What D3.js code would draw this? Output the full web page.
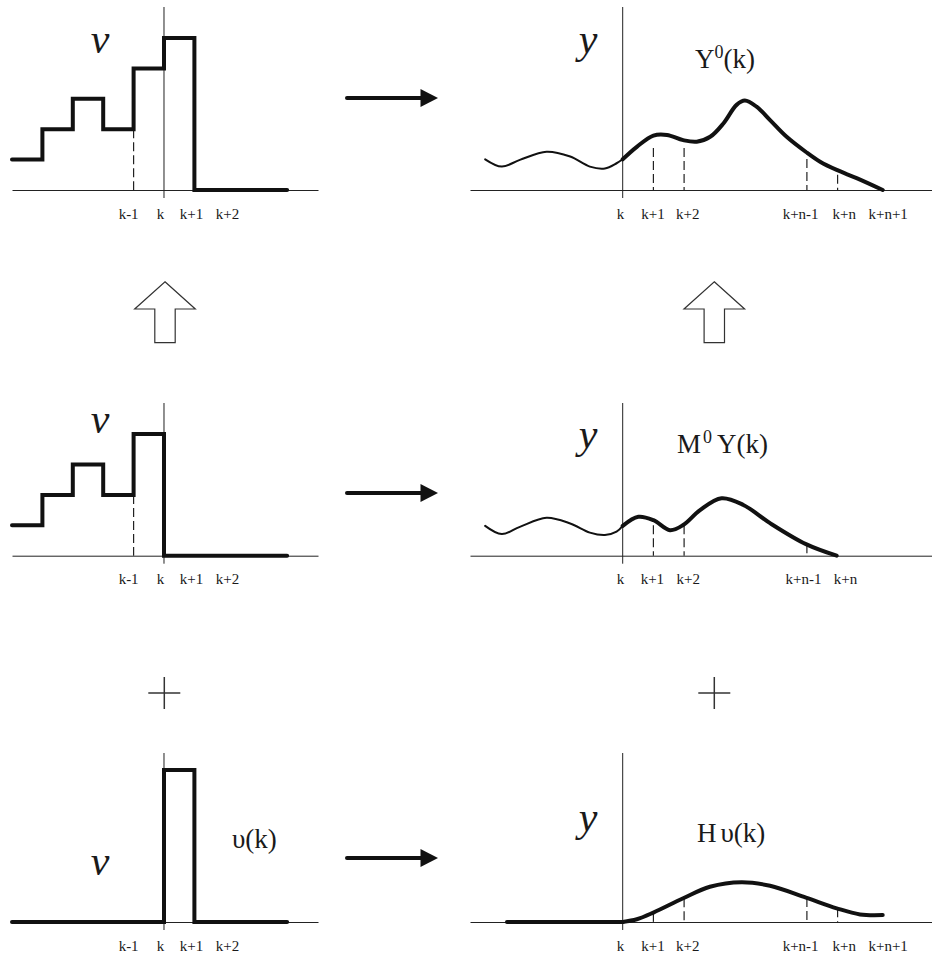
<!DOCTYPE html>
<html>
<head>
<meta charset="utf-8">
<script src="https://cdn.jsdelivr.net/npm/d3@7"></script>
<style>
  body { margin: 0; background: #fff; }
  svg text { font-family: 'Liberation Serif', 'Times New Roman', serif; fill: #1a1a1a; }
</style>
</head>
<body>
<script>
let w = 932;
let h = 965;

// step inputs (t = steps after k, value)
let vPast = [[-5, 1], [-4, 2], [-3, 3], [-2, 2], [-1, 4], [0, 5], [1, 0], [4.05, 0]];
let vFree = [[-5, 1], [-4, 2], [-3, 3], [-2, 2], [-1, 4], [0, 0], [4.05, 0]];
let vPulse = [[-5, 0], [0, 5], [1, 0], [4.05, 0]];

// outputs: past (thin) and predicted (thick)
let y0Past = [[-4.48, 1.01], [-3.94, 0.77], [-3.35, 0.99], [-2.48, 1.26], [-1.71, 1.1], [-1.07, 0.77], [-0.58, 0.71], [-0.2, 0.88], [0, 1.01]];
let y0Pred = [[0, 1.01], [0.46, 1.42], [1.0, 1.79], [1.44, 1.81], [1.97, 1.64], [2.41, 1.59], [2.85, 1.75], [3.28, 2.19], [3.71, 2.8], [3.98, 2.94], [4.36, 2.74], [4.8, 2.3], [5.34, 1.75], [5.97, 1.25], [6.43, 0.93], [6.97, 0.66], [7.62, 0.39], [8.47, 0]];
let m0Past = [[-4.48, 0.98], [-3.94, 0.71], [-3.35, 0.95], [-2.48, 1.25], [-1.71, 1.06], [-1.07, 0.76], [-0.58, 0.68], [-0.2, 0.79], [0, 0.98]];
let m0Pred = [[0, 0.98], [0.51, 1.28], [1.0, 1.17], [1.54, 0.84], [1.97, 1.01], [2.52, 1.5], [3.22, 1.89], [3.93, 1.67], [4.8, 1.07], [5.97, 0.38], [6.97, 0]];
let hPast = [[-3.77, 0], [0, 0]];
let hPred = [[0, 0], [0.46, 0.09], [1.0, 0.31], [1.97, 0.78], [2.84, 1.16], [3.87, 1.31], [4.8, 1.19], [5.97, 0.8], [6.97, 0.45], [7.73, 0.25], [8.47, 0.23]];

// dashed guides [t, height]
let leftDash = [[-1, 2]];
let y0Dash = [[1, 1.38], [2, 1.38], [6, 1.02], [7, 0.5]];
let m0Dash = [[1, 1.0], [2, 1.0], [6, 0.38]];
let hDash = [[1, 0.3], [2, 0.78], [6, 0.79], [7, 0.45]];

// tick labels
let leftLabels = ['k-1', 'k', 'k+1', 'k+2'];
let leftLabelAt = [-1.18, -0.13, 0.89, 2.07];
let rightLabels = ['k', 'k+1', 'k+2', 'k+n-1', 'k+n', 'k+n+1'];
let rightLabelAt = [-0.09, 0.97, 2.1, 5.78, 7.2, 8.63];
let midLabels = ['k', 'k+1', 'k+2', 'k+n-1', 'k+n'];
let midLabelAt = [-0.09, 0.95, 2.12, 5.87, 7.24];

let svg = d3.select('body')
  .append('svg')
  .attr('width', w)
  .attr('height', h);

let xLeft = d3.scaleLinear().domain([-5, 5.0658]).range([12, 318]);
let xRight = d3.scaleLinear().domain([-4.974, 10.075]).range([470, 932]);

let rows = [
  { base: 190, top: 7 },
  { base: 555.7, top: 403 },
  { base: 922, top: 753 }
];

function yScaleFor(row) {
  return d3.scaleLinear().domain([0, 5]).range([row.base, row.base - 152]);
}

function drawAxis(x, row, labels, at) {
  let axis = d3.axisBottom(x)
    .tickValues(at)
    .tickFormat((d, i) => labels[i])
    .tickSizeInner(0)
    .tickSizeOuter(0)
    .tickPadding(18);
  let g = svg.append('g')
    .attr('transform', 'translate(0,' + row.base + ')')
    .call(axis);
  g.select('.domain').attr('stroke', '#222').attr('stroke-width', 1);
  g.selectAll('text')
    .attr('font-family', 'Liberation Serif')
    .attr('font-size', 15)
    .attr('fill', '#1a1a1a');
  // vertical axis at t = 0
  svg.append('line')
    .attr('x1', x(0)).attr('x2', x(0))
    .attr('y1', row.top).attr('y2', row.base + 8)
    .attr('stroke', '#222')
    .attr('stroke-width', 1);
}

function drawDash(x, y, data) {
  svg.append('g').selectAll('line')
    .data(data)
    .enter()
    .append('line')
    .attr('x1', (d) => x(d[0])).attr('x2', (d) => x(d[0]))
    .attr('y1', (d) => y(d[1])).attr('y2', y(0))
    .attr('stroke', '#222')
    .attr('stroke-width', 1.2)
    .attr('stroke-dasharray', '9,4');
}

function drawSteps(x, y, data) {
  let line = d3.line()
    .x((d) => x(d[0]))
    .y((d) => y(d[1]))
    .curve(d3.curveStepAfter);
  svg.append('path')
    .attr('d', line(data))
    .attr('fill', 'none')
    .attr('stroke', '#111')
    .attr('stroke-width', 4)
    .attr('stroke-linejoin', 'miter')
    .attr('stroke-linecap', 'round');
}

function drawCurve(x, y, data, width) {
  let line = d3.line()
    .x((d) => x(d[0]))
    .y((d) => y(d[1]))
    .curve(d3.curveCatmullRom.alpha(0.5));
  svg.append('path')
    .attr('d', line(data))
    .attr('fill', 'none')
    .attr('stroke', '#111')
    .attr('stroke-width', width)
    .attr('stroke-linecap', 'round');
}

// left column
let leftSteps = [vPast, vFree, vPulse];
rows.forEach((row, i) => {
  let y = yScaleFor(row);
  drawAxis(xLeft, row, leftLabels, leftLabelAt);
  if (i < 2) drawDash(xLeft, y, leftDash);
  drawSteps(xLeft, y, leftSteps[i]);
});

// right column
let rightPast = [y0Past, m0Past, hPast];
let rightPred = [y0Pred, m0Pred, hPred];
let rightDash = [y0Dash, m0Dash, hDash];
let rightLab = [[rightLabels, rightLabelAt], [midLabels, midLabelAt], [rightLabels, rightLabelAt]];
rows.forEach((row, i) => {
  let y = yScaleFor(row);
  drawAxis(xRight, row, rightLab[i][0], rightLab[i][1]);
  drawDash(xRight, y, rightDash[i]);
  drawCurve(xRight, y, rightPast[i], i === 2 ? 4 : 2);
  drawCurve(xRight, y, rightPred[i], 4);
});

// variable names
let italic = [
  { t: 'v', x: 100, y: 53 },
  { t: 'v', x: 100, y: 433 },
  { t: 'v', x: 100, y: 875 },
  { t: 'y', x: 588, y: 53 },
  { t: 'y', x: 588, y: 448 },
  { t: 'y', x: 588, y: 831 }
];
svg.selectAll('text.var')
  .data(italic)
  .enter()
  .append('text')
  .attr('class', 'var')
  .attr('x', (d) => d.x)
  .attr('y', (d) => d.y)
  .attr('text-anchor', 'middle')
  .attr('font-size', 42)
  .attr('font-style', 'italic')
  .text((d) => d.t);

// series names
function label(x, y, parts) {
  let t = svg.append('text')
    .attr('x', x)
    .attr('y', y)
    .attr('font-size', 27);
  parts.forEach((p) => {
    let s = t.append('tspan').text(p.s);
    if (p.sup) s.attr('font-size', 18).attr('dy', -10);
    if (p.back) s.attr('dy', 10);
    if (p.dx) s.attr('dx', p.dx);
  });
}
label(695, 68, [{ s: 'Y' }, { s: '0', sup: true }, { s: '(k)', back: true }]);
label(677, 453, [{ s: 'M' }, { s: '0', sup: true, dx: 2 }, { s: 'Y(k)', back: true, dx: 5 }]);
label(697, 842, [{ s: 'H' }, { s: 'υ(k)', dx: 4 }]);
label(232, 848, [{ s: 'υ(k)' }]);

// black arrows
let arrowY = [98, 493, 858];
svg.selectAll('line.arrow')
  .data(arrowY)
  .enter()
  .append('line')
  .attr('class', 'arrow')
  .attr('x1', 347).attr('x2', 424)
  .attr('y1', (d) => d).attr('y2', (d) => d)
  .attr('stroke', '#111')
  .attr('stroke-width', 4)
  .attr('stroke-linecap', 'round');
svg.selectAll('path.head')
  .data(arrowY)
  .enter()
  .append('path')
  .attr('class', 'head')
  .attr('d', (d) => 'M420.5,' + (d - 9) + 'L438,' + d + 'L420.5,' + (d + 9) + 'Z')
  .attr('fill', '#111');

// hollow up arrows
let upX = [165, 714.3];
svg.selectAll('path.up')
  .data(upX)
  .enter()
  .append('path')
  .attr('class', 'up')
  .attr('d', (c) => 'M' + c + ',281.7L' + (c + 30.3) + ',309L' + (c + 10.2) + ',309L' + (c + 10.2) + ',342.7L' +
    (c - 10.2) + ',342.7L' + (c - 10.2) + ',309L' + (c - 30.3) + ',309Z')
  .attr('fill', 'none')
  .attr('stroke', '#333')
  .attr('stroke-width', 1.2);

// plus signs
let plusX = [164.3, 714.3];
plusX.forEach((c) => {
  svg.append('line').attr('x1', c - 16).attr('x2', c + 16).attr('y1', 693).attr('y2', 693)
    .attr('stroke', '#333').attr('stroke-width', 1.5);
  svg.append('line').attr('x1', c).attr('x2', c).attr('y1', 677).attr('y2', 709)
    .attr('stroke', '#333').attr('stroke-width', 1.5);
});
</script>
</body>
</html>
